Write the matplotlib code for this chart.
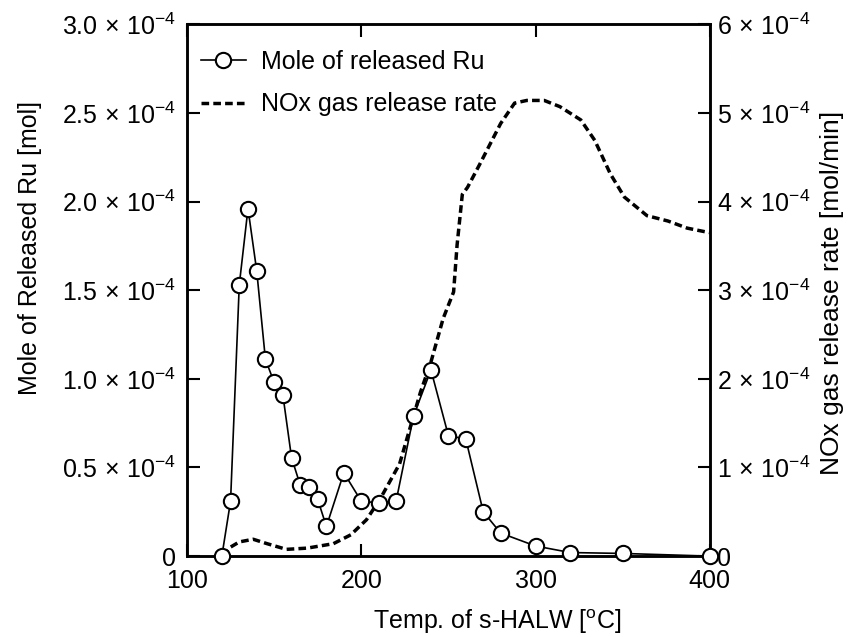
import numpy as np
import matplotlib
matplotlib.use("Agg")
import matplotlib.pyplot as plt

plt.rcParams['font.family'] = ['Liberation Sans', 'DejaVu Sans']
plt.rcParams['mathtext.fontset'] = 'custom'
plt.rcParams['mathtext.rm'] = 'Liberation Sans'
plt.rcParams['mathtext.it'] = 'Liberation Sans:italic'
plt.rcParams['mathtext.bf'] = 'Liberation Sans:bold'

# Du lieu: Ru (x 1e-4 mol)
ru_temp = [120, 125, 130, 135, 140, 145, 150, 155, 160, 165, 170, 175, 180,
           190, 200, 210, 220, 230, 240, 250, 260, 270, 280, 300, 320, 350, 400]
ru_mol = [0, 0.31, 1.53, 1.96, 1.61, 1.11, 0.98, 0.91, 0.555, 0.40, 0.39, 0.32, 0.167,
          0.47, 0.31, 0.30, 0.31, 0.79, 1.05, 0.68, 0.66, 0.25, 0.13, 0.057, 0.02, 0.015, 0]

# NOx (x 1e-4 mol/min)
nox_temp = [121, 124, 130, 138, 146, 157, 169, 184, 194, 203, 211, 222, 234, 240, 247,
            253, 255, 258, 261, 268, 274, 280, 288, 295, 305, 314, 326, 334, 343, 351,
            364, 376, 387, 397, 400]
nox_rate = [0, 0.09, 0.16, 0.19, 0.14, 0.076, 0.09, 0.14, 0.24, 0.41, 0.65, 1.04, 1.85,
            2.19, 2.68, 2.98, 3.51, 4.08, 4.16, 4.42, 4.65, 4.88, 5.11, 5.14, 5.14, 5.07,
            4.92, 4.69, 4.31, 4.05, 3.84, 3.78, 3.70, 3.66, 3.65]

left_ticks = [0, 0.5, 1.0, 1.5, 2.0, 2.5, 3.0]
left_labels = ['0'] + [r'$%.1f\,\times\,10^{-4}$' % v for v in left_ticks[1:]]
right_ticks = [0, 1, 2, 3, 4, 5, 6]
right_labels = ['0'] + [r'$%d\,\times\,10^{-4}$' % v for v in right_ticks[1:]]
x_ticks = [100, 200, 300, 400]

fs = 18

fig = plt.figure(figsize=(8.5, 6.37), dpi=100)
ax = fig.add_axes([0.22, 0.127, 0.615, 0.835])
ax2 = ax.twinx()

ru = np.array(ru_mol) * 1e-4
nox = np.array(nox_rate) * 1e-4

l2, = ax2.plot(nox_temp, nox, color='black', lw=2.5, ls=(0, (2.2, 1.2)),
               label='NOx gas release rate')
l1, = ax.plot(ru_temp, ru, color='black', lw=1.2, marker='o', markersize=11,
              markerfacecolor='white', markeredgecolor='black', markeredgewidth=1.5,
              clip_on=False, zorder=5, label='Mole of released Ru')

ax.set_zorder(ax2.get_zorder() + 1)
ax.patch.set_visible(False)

ax.set_xlim(100, 400)
ax.set_ylim(0, 3.0e-4)
ax2.set_ylim(0, 6e-4)

ax.set_xticks(x_ticks)
ax.set_xticklabels([str(t) for t in x_ticks], fontsize=fs)
ax.set_yticks(np.array(left_ticks) * 1e-4)
ax.set_yticklabels(left_labels, fontsize=fs)
ax2.set_yticks(np.array(right_ticks) * 1e-4)
ax2.set_yticklabels(right_labels, fontsize=fs)

ax.tick_params(axis='x', direction='in', length=9, width=1.5, top=True, pad=9)
ax.tick_params(axis='y', direction='in', length=9, width=1.5, pad=8)
ax2.tick_params(axis='y', direction='in', length=9, width=1.5, pad=5)
for a in (ax, ax2):
    for s in a.spines.values():
        s.set_linewidth(1.8)

ax.set_xlabel(r'Temp. of s-HALW [$^{\rm o}$C]', fontsize=fs)
ax.set_ylabel('Mole of Released Ru [mol]', fontsize=fs)
ax2.set_ylabel('NOx gas release rate [mol/min]', fontsize=19)
ax.xaxis.set_label_coords(0.593, -0.096)
ax.yaxis.set_label_coords(-0.277, 0.58)
ax2.yaxis.set_label_coords(1.21, 0.494)

ax.legend([l1, l2], ['Mole of released Ru', 'NOx gas release rate'], loc='upper left',
          bbox_to_anchor=(-0.012, 0.99), frameon=False, fontsize=fs,
          handlelength=1.8, handletextpad=0.6, labelspacing=0.75, borderpad=0.3)

fig.savefig('out.png', dpi=100)
